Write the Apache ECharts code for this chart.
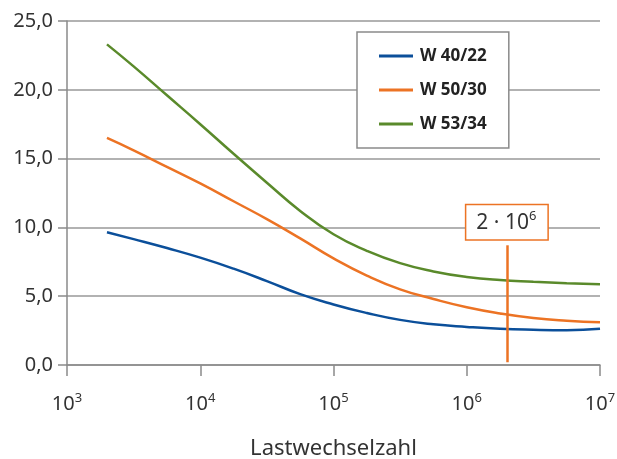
<!DOCTYPE html>
<html>
<head>
<meta charset="utf-8">
<script src="https://cdn.jsdelivr.net/npm/echarts@6/dist/echarts.min.js"></script>
<style>
html,body{margin:0;padding:0;background:#fff;}
#c{width:617px;height:459px;}
</style>
</head>
<body>
<div id="c"></div>
<script>
var cycles = [1995, 3162, 5623, 1e4, 17783, 31623, 56234, 1e5, 177828, 316228, 562341, 1e6, 1778279, 3162278, 5623413, 1e7];
var w4022 = [9.65, 9.15, 8.5, 7.8, 7.0, 6.1, 5.15, 4.4, 3.78, 3.28, 2.96, 2.77, 2.63, 2.56, 2.53, 2.63];
var w5030 = [16.5, 15.6, 14.4, 13.2, 11.9, 10.6, 9.2, 7.75, 6.5, 5.5, 4.8, 4.2, 3.75, 3.42, 3.22, 3.1];
var w5334 = [23.3, 21.7, 19.6, 17.5, 15.35, 13.25, 11.2, 9.5, 8.3, 7.4, 6.8, 6.4, 6.17, 6.05, 5.95, 5.86];
var seriesNames = ['W 40/22', 'W 50/30', 'W 53/34'];
var colors = ['#0b4f9a', '#ec7324', '#5a8a2b'];
var markX = 2e6;
var markY = [0.2, 8.7];
var xAxisName = 'Lastwechselzahl';

function pairs(vals){ return cycles.map(function(c,i){ return [c, vals[i]]; }); }

var font = '"Noto Sans", "Open Sans", sans-serif';
var chart = echarts.init(document.getElementById('c'), null, {renderer:'canvas'});
var series = [w4022, w5030, w5334].map(function(v, i){
  return {
    name: seriesNames[i], type: 'line', smooth: 0.5, symbol: 'none',
    data: pairs(v), lineStyle: {color: colors[i], width: 2.5}, itemStyle: {color: colors[i]},
    z: 3
  };
});
series[1].markLine = {
  silent: true, symbol: 'none',
  lineStyle: {color: '#ec7324', width: 2.5, type: 'solid'},
  label: {
    show: true, position: 'end', distance: 6,
    formatter: '{a|2 · 10}{b|6}',
    backgroundColor: '#fff', borderColor: '#ec7324', borderWidth: 1.5,
    padding: [5, 11, 3, 10],
    rich: {
      a: {fontSize: 21, fontFamily: font, color: '#333', lineHeight: 26},
      b: {fontSize: 13, fontFamily: font, color: '#333', lineHeight: 13, verticalAlign: 'top'}
    }
  },
  data: [[{coord: [markX, markY[0]]}, {coord: [markX, markY[1]]}]]
};

chart.setOption({
  animation: false,
  backgroundColor: '#fff',
  grid: {left: 67, right: 17, top: 21, bottom: 94, containLabel: false, outerBoundsMode: 'none'},
  legend: {
    orient: 'vertical', left: 357, top: 32,
    data: seriesNames,
    icon: 'rect',
    itemWidth: 34, itemHeight: 3, itemGap: 14,
    padding: [14, 22, 14, 22],
    backgroundColor: '#fff', borderColor: '#8a8a8a', borderWidth: 1.5,
    textStyle: {fontFamily: font, fontWeight: 'bold', fontSize: 17, color: '#222', lineHeight: 20, padding: [0, 0, 0, 2]}
  },
  xAxis: {
    type: 'log', logBase: 10, min: 1000, max: 1e7,
    name: xAxisName, nameLocation: 'middle', nameGap: 73,
    nameTextStyle: {fontFamily: font, fontSize: 22, color: '#333'},
    axisLine: {lineStyle: {color: '#8a8a8a', width: 1.5}},
    axisTick: {show: true, length: 11, lineStyle: {color: '#8a8a8a', width: 1.5}},
    splitLine: {show: false},
    axisLabel: {
      margin: 27,
      formatter: function(v){ var e = Math.round(Math.log(v)/Math.LN10); return '{a|10}{b|' + e + '}'; },
      rich: {
        a: {fontSize: 20, fontFamily: font, color: '#333', lineHeight: 24},
        b: {fontSize: 13, fontFamily: font, color: '#333', lineHeight: 13, verticalAlign: 'top'}
      }
    }
  },
  yAxis: {
    type: 'value', min: 0, max: 25, interval: 5,
    axisLine: {show: true, lineStyle: {color: '#8a8a8a', width: 1.5}},
    axisTick: {show: true, length: 9, lineStyle: {color: '#8a8a8a', width: 1.5}},
    splitLine: {show: true, lineStyle: {color: '#999', width: 1.5}},
    axisLabel: {
      margin: 14, fontSize: 20, fontFamily: font, color: '#333',
      formatter: function(v){ return v.toFixed(1).replace('.', ','); }
    }
  },
  series: series
});
</script>
</body>
</html>
